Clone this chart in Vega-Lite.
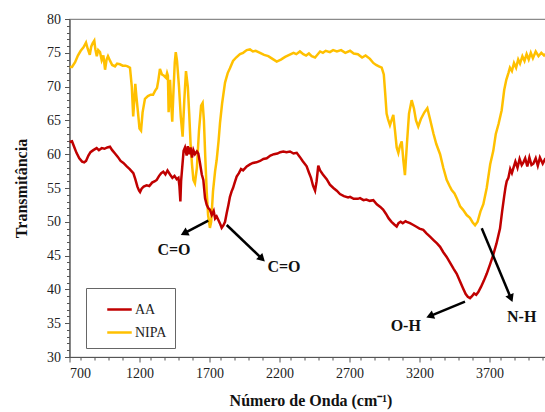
{
  "$schema": "https://vega.github.io/schema/vega-lite/v6.json",
  "width": 490,
  "height": 338,
  "autosize": {"type": "none"},
  "padding": {"left": 69.5, "top": 19, "right": 0, "bottom": 55},
  "background": "white",
  "config": {
    "view": {"stroke": "#8a8a8a", "strokeWidth": 1.2},
    "font": "'Liberation Serif', 'Times New Roman', serif",
    "axis": {"grid": false, "labelFont": "'Liberation Serif', 'Times New Roman', serif", "titleFont": "'Liberation Serif', 'Times New Roman', serif"},
    "legend": {"labelFont": "'Liberation Serif', 'Times New Roman', serif"},
    "text": {"font": "'Liberation Serif', 'Times New Roman', serif"}
  },
  "datasets": {
    "spectra": [
      {"w": 700, "t": 72.9, "s": "NIPA"}, {"w": 718, "t": 72.9, "s": "NIPA"}, {"w": 740, "t": 73.6, "s": "NIPA"},
      {"w": 760, "t": 74.6, "s": "NIPA"}, {"w": 780, "t": 75.3, "s": "NIPA"}, {"w": 800, "t": 75.8, "s": "NIPA"},
      {"w": 818, "t": 76.5, "s": "NIPA"}, {"w": 830, "t": 75.6, "s": "NIPA"}, {"w": 845, "t": 74.7, "s": "NIPA"},
      {"w": 855, "t": 75.9, "s": "NIPA"}, {"w": 865, "t": 76.4, "s": "NIPA"}, {"w": 877, "t": 76.8, "s": "NIPA"},
      {"w": 885, "t": 75.5, "s": "NIPA"}, {"w": 895, "t": 74.5, "s": "NIPA"}, {"w": 905, "t": 75.4, "s": "NIPA"},
      {"w": 918, "t": 75.1, "s": "NIPA"}, {"w": 930, "t": 73.9, "s": "NIPA"}, {"w": 942, "t": 74.6, "s": "NIPA"},
      {"w": 954, "t": 72.5, "s": "NIPA"}, {"w": 965, "t": 74.0, "s": "NIPA"}, {"w": 975, "t": 74.5, "s": "NIPA"},
      {"w": 990, "t": 73.8, "s": "NIPA"}, {"w": 1005, "t": 73.2, "s": "NIPA"}, {"w": 1025, "t": 73.0, "s": "NIPA"},
      {"w": 1040, "t": 73.4, "s": "NIPA"}, {"w": 1060, "t": 73.3, "s": "NIPA"}, {"w": 1080, "t": 73.1, "s": "NIPA"},
      {"w": 1100, "t": 73.1, "s": "NIPA"}, {"w": 1115, "t": 73.0, "s": "NIPA"}, {"w": 1132, "t": 72.8, "s": "NIPA"},
      {"w": 1145, "t": 70.0, "s": "NIPA"}, {"w": 1155, "t": 65.6, "s": "NIPA"}, {"w": 1163, "t": 68.0, "s": "NIPA"},
      {"w": 1170, "t": 70.4, "s": "NIPA"}, {"w": 1178, "t": 68.5, "s": "NIPA"}, {"w": 1190, "t": 66.0, "s": "NIPA"},
      {"w": 1200, "t": 63.8, "s": "NIPA"}, {"w": 1211, "t": 63.5, "s": "NIPA"}, {"w": 1222, "t": 66.2, "s": "NIPA"},
      {"w": 1239, "t": 68.2, "s": "NIPA"}, {"w": 1260, "t": 68.6, "s": "NIPA"}, {"w": 1280, "t": 68.8, "s": "NIPA"},
      {"w": 1297, "t": 68.8, "s": "NIPA"}, {"w": 1312, "t": 69.4, "s": "NIPA"}, {"w": 1325, "t": 69.8, "s": "NIPA"},
      {"w": 1335, "t": 71.0, "s": "NIPA"}, {"w": 1346, "t": 72.6, "s": "NIPA"}, {"w": 1360, "t": 71.8, "s": "NIPA"},
      {"w": 1375, "t": 71.6, "s": "NIPA"}, {"w": 1389, "t": 71.3, "s": "NIPA"}, {"w": 1397, "t": 72.0, "s": "NIPA"},
      {"w": 1403, "t": 71.6, "s": "NIPA"}, {"w": 1408, "t": 66.2, "s": "NIPA"}, {"w": 1413, "t": 68.5, "s": "NIPA"},
      {"w": 1418, "t": 71.0, "s": "NIPA"}, {"w": 1425, "t": 68.0, "s": "NIPA"}, {"w": 1434, "t": 64.8, "s": "NIPA"},
      {"w": 1443, "t": 69.5, "s": "NIPA"}, {"w": 1452, "t": 73.6, "s": "NIPA"}, {"w": 1459, "t": 75.1, "s": "NIPA"},
      {"w": 1468, "t": 73.8, "s": "NIPA"}, {"w": 1482, "t": 70.0, "s": "NIPA"}, {"w": 1495, "t": 65.5, "s": "NIPA"},
      {"w": 1508, "t": 62.6, "s": "NIPA"}, {"w": 1520, "t": 68.0, "s": "NIPA"}, {"w": 1532, "t": 72.3, "s": "NIPA"},
      {"w": 1545, "t": 70.0, "s": "NIPA"}, {"w": 1555, "t": 66.0, "s": "NIPA"}, {"w": 1565, "t": 61.5, "s": "NIPA"},
      {"w": 1575, "t": 58.5, "s": "NIPA"}, {"w": 1585, "t": 56.2, "s": "NIPA"}, {"w": 1596, "t": 55.7, "s": "NIPA"},
      {"w": 1610, "t": 58.0, "s": "NIPA"}, {"w": 1625, "t": 63.5, "s": "NIPA"}, {"w": 1640, "t": 67.2, "s": "NIPA"},
      {"w": 1651, "t": 67.6, "s": "NIPA"}, {"w": 1660, "t": 65.0, "s": "NIPA"}, {"w": 1670, "t": 59.5, "s": "NIPA"},
      {"w": 1680, "t": 54.5, "s": "NIPA"}, {"w": 1690, "t": 51.0, "s": "NIPA"}, {"w": 1703, "t": 49.1, "s": "NIPA"},
      {"w": 1712, "t": 50.0, "s": "NIPA"}, {"w": 1725, "t": 54.5, "s": "NIPA"}, {"w": 1740, "t": 57.5, "s": "NIPA"},
      {"w": 1751, "t": 59.1, "s": "NIPA"}, {"w": 1765, "t": 62.0, "s": "NIPA"}, {"w": 1775, "t": 64.6, "s": "NIPA"},
      {"w": 1790, "t": 67.5, "s": "NIPA"}, {"w": 1811, "t": 70.6, "s": "NIPA"}, {"w": 1830, "t": 72.0, "s": "NIPA"},
      {"w": 1846, "t": 72.7, "s": "NIPA"}, {"w": 1868, "t": 73.8, "s": "NIPA"}, {"w": 1890, "t": 74.3, "s": "NIPA"},
      {"w": 1918, "t": 74.8, "s": "NIPA"}, {"w": 1940, "t": 75.0, "s": "NIPA"}, {"w": 1966, "t": 75.4, "s": "NIPA"},
      {"w": 1989, "t": 75.5, "s": "NIPA"}, {"w": 2010, "t": 75.2, "s": "NIPA"}, {"w": 2030, "t": 75.3, "s": "NIPA"},
      {"w": 2061, "t": 75.0, "s": "NIPA"}, {"w": 2090, "t": 74.7, "s": "NIPA"}, {"w": 2120, "t": 74.5, "s": "NIPA"},
      {"w": 2150, "t": 74.1, "s": "NIPA"}, {"w": 2180, "t": 73.7, "s": "NIPA"}, {"w": 2210, "t": 74.0, "s": "NIPA"},
      {"w": 2240, "t": 74.4, "s": "NIPA"}, {"w": 2270, "t": 74.7, "s": "NIPA"}, {"w": 2300, "t": 75.0, "s": "NIPA"},
      {"w": 2320, "t": 74.8, "s": "NIPA"}, {"w": 2346, "t": 75.2, "s": "NIPA"}, {"w": 2370, "t": 74.8, "s": "NIPA"},
      {"w": 2390, "t": 74.6, "s": "NIPA"}, {"w": 2410, "t": 74.9, "s": "NIPA"}, {"w": 2430, "t": 74.5, "s": "NIPA"},
      {"w": 2454, "t": 74.3, "s": "NIPA"}, {"w": 2466, "t": 74.6, "s": "NIPA"}, {"w": 2490, "t": 75.2, "s": "NIPA"},
      {"w": 2510, "t": 75.0, "s": "NIPA"}, {"w": 2530, "t": 75.3, "s": "NIPA"}, {"w": 2560, "t": 75.1, "s": "NIPA"},
      {"w": 2583, "t": 75.4, "s": "NIPA"}, {"w": 2610, "t": 75.2, "s": "NIPA"}, {"w": 2640, "t": 75.4, "s": "NIPA"},
      {"w": 2670, "t": 75.0, "s": "NIPA"}, {"w": 2704, "t": 75.3, "s": "NIPA"}, {"w": 2730, "t": 74.9, "s": "NIPA"},
      {"w": 2760, "t": 74.8, "s": "NIPA"}, {"w": 2790, "t": 74.3, "s": "NIPA"}, {"w": 2815, "t": 74.6, "s": "NIPA"},
      {"w": 2846, "t": 74.1, "s": "NIPA"}, {"w": 2870, "t": 73.5, "s": "NIPA"}, {"w": 2890, "t": 73.2, "s": "NIPA"},
      {"w": 2910, "t": 73.0, "s": "NIPA"}, {"w": 2930, "t": 72.8, "s": "NIPA"}, {"w": 2945, "t": 71.8, "s": "NIPA"},
      {"w": 2955, "t": 69.0, "s": "NIPA"}, {"w": 2965, "t": 66.0, "s": "NIPA"}, {"w": 2975, "t": 65.2, "s": "NIPA"},
      {"w": 2989, "t": 64.3, "s": "NIPA"}, {"w": 3000, "t": 65.0, "s": "NIPA"}, {"w": 3013, "t": 65.8, "s": "NIPA"},
      {"w": 3025, "t": 63.5, "s": "NIPA"}, {"w": 3037, "t": 61.0, "s": "NIPA"}, {"w": 3049, "t": 60.2, "s": "NIPA"},
      {"w": 3060, "t": 61.2, "s": "NIPA"}, {"w": 3073, "t": 61.9, "s": "NIPA"}, {"w": 3085, "t": 59.0, "s": "NIPA"},
      {"w": 3096, "t": 56.9, "s": "NIPA"}, {"w": 3110, "t": 61.5, "s": "NIPA"}, {"w": 3125, "t": 66.0, "s": "NIPA"},
      {"w": 3144, "t": 68.0, "s": "NIPA"}, {"w": 3160, "t": 66.8, "s": "NIPA"}, {"w": 3175, "t": 65.0, "s": "NIPA"},
      {"w": 3191, "t": 64.1, "s": "NIPA"}, {"w": 3210, "t": 65.2, "s": "NIPA"}, {"w": 3235, "t": 66.2, "s": "NIPA"},
      {"w": 3256, "t": 66.8, "s": "NIPA"}, {"w": 3275, "t": 65.2, "s": "NIPA"}, {"w": 3299, "t": 63.1, "s": "NIPA"},
      {"w": 3320, "t": 61.5, "s": "NIPA"}, {"w": 3347, "t": 60.0, "s": "NIPA"}, {"w": 3370, "t": 58.0, "s": "NIPA"},
      {"w": 3394, "t": 56.2, "s": "NIPA"}, {"w": 3415, "t": 55.3, "s": "NIPA"}, {"w": 3430, "t": 54.7, "s": "NIPA"},
      {"w": 3450, "t": 54.2, "s": "NIPA"}, {"w": 3466, "t": 53.5, "s": "NIPA"}, {"w": 3490, "t": 52.3, "s": "NIPA"},
      {"w": 3510, "t": 51.8, "s": "NIPA"}, {"w": 3537, "t": 51.0, "s": "NIPA"}, {"w": 3560, "t": 50.6, "s": "NIPA"},
      {"w": 3580, "t": 49.9, "s": "NIPA"}, {"w": 3597, "t": 49.5, "s": "NIPA"}, {"w": 3615, "t": 50.0, "s": "NIPA"},
      {"w": 3635, "t": 51.5, "s": "NIPA"}, {"w": 3656, "t": 52.6, "s": "NIPA"}, {"w": 3680, "t": 55.0, "s": "NIPA"},
      {"w": 3705, "t": 58.5, "s": "NIPA"}, {"w": 3727, "t": 60.5, "s": "NIPA"}, {"w": 3745, "t": 63.0, "s": "NIPA"},
      {"w": 3765, "t": 64.5, "s": "NIPA"}, {"w": 3787, "t": 66.5, "s": "NIPA"}, {"w": 3805, "t": 69.5, "s": "NIPA"},
      {"w": 3820, "t": 71.0, "s": "NIPA"}, {"w": 3835, "t": 72.0, "s": "NIPA"}, {"w": 3846, "t": 72.8, "s": "NIPA"},
      {"w": 3860, "t": 72.3, "s": "NIPA"}, {"w": 3875, "t": 73.5, "s": "NIPA"}, {"w": 3890, "t": 72.8, "s": "NIPA"},
      {"w": 3905, "t": 74.0, "s": "NIPA"}, {"w": 3918, "t": 73.4, "s": "NIPA"}, {"w": 3935, "t": 74.5, "s": "NIPA"},
      {"w": 3950, "t": 73.8, "s": "NIPA"}, {"w": 3965, "t": 74.8, "s": "NIPA"}, {"w": 3980, "t": 74.0, "s": "NIPA"},
      {"w": 3995, "t": 75.0, "s": "NIPA"}, {"w": 4010, "t": 74.2, "s": "NIPA"}, {"w": 4030, "t": 75.2, "s": "NIPA"},
      {"w": 4050, "t": 74.5, "s": "NIPA"}, {"w": 4070, "t": 75.0, "s": "NIPA"}, {"w": 4090, "t": 74.6, "s": "NIPA"},
      {"w": 4110, "t": 75.0, "s": "NIPA"},

      {"w": 700, "t": 61.8, "s": "AA"}, {"w": 718, "t": 61.9, "s": "AA"}, {"w": 735, "t": 61.0, "s": "AA"},
      {"w": 750, "t": 60.2, "s": "AA"}, {"w": 770, "t": 59.4, "s": "AA"}, {"w": 790, "t": 58.9, "s": "AA"},
      {"w": 805, "t": 58.8, "s": "AA"}, {"w": 818, "t": 59.0, "s": "AA"}, {"w": 835, "t": 59.8, "s": "AA"},
      {"w": 850, "t": 60.3, "s": "AA"}, {"w": 870, "t": 60.6, "s": "AA"}, {"w": 894, "t": 60.9, "s": "AA"},
      {"w": 910, "t": 60.6, "s": "AA"}, {"w": 930, "t": 60.9, "s": "AA"}, {"w": 950, "t": 60.8, "s": "AA"},
      {"w": 970, "t": 61.0, "s": "AA"}, {"w": 989, "t": 61.1, "s": "AA"}, {"w": 1005, "t": 60.6, "s": "AA"},
      {"w": 1025, "t": 60.1, "s": "AA"}, {"w": 1045, "t": 59.6, "s": "AA"}, {"w": 1065, "t": 59.0, "s": "AA"},
      {"w": 1085, "t": 58.7, "s": "AA"}, {"w": 1109, "t": 58.2, "s": "AA"}, {"w": 1130, "t": 57.8, "s": "AA"},
      {"w": 1156, "t": 57.2, "s": "AA"}, {"w": 1170, "t": 56.3, "s": "AA"}, {"w": 1185, "t": 55.2, "s": "AA"},
      {"w": 1197, "t": 54.6, "s": "AA"}, {"w": 1204, "t": 54.4, "s": "AA"}, {"w": 1215, "t": 54.9, "s": "AA"},
      {"w": 1230, "t": 55.2, "s": "AA"}, {"w": 1251, "t": 55.4, "s": "AA"}, {"w": 1270, "t": 55.3, "s": "AA"},
      {"w": 1290, "t": 55.8, "s": "AA"}, {"w": 1310, "t": 56.0, "s": "AA"}, {"w": 1323, "t": 56.2, "s": "AA"},
      {"w": 1340, "t": 56.8, "s": "AA"}, {"w": 1355, "t": 57.2, "s": "AA"}, {"w": 1370, "t": 57.4, "s": "AA"},
      {"w": 1385, "t": 57.0, "s": "AA"}, {"w": 1400, "t": 57.6, "s": "AA"}, {"w": 1418, "t": 57.0, "s": "AA"},
      {"w": 1435, "t": 56.5, "s": "AA"}, {"w": 1450, "t": 56.8, "s": "AA"}, {"w": 1466, "t": 56.3, "s": "AA"},
      {"w": 1478, "t": 56.5, "s": "AA"}, {"w": 1485, "t": 55.3, "s": "AA"}, {"w": 1492, "t": 53.0, "s": "AA"},
      {"w": 1497, "t": 56.0, "s": "AA"}, {"w": 1505, "t": 58.0, "s": "AA"}, {"w": 1515, "t": 60.5, "s": "AA"},
      {"w": 1525, "t": 61.0, "s": "AA"}, {"w": 1537, "t": 59.8, "s": "AA"}, {"w": 1545, "t": 61.2, "s": "AA"},
      {"w": 1555, "t": 60.0, "s": "AA"}, {"w": 1565, "t": 61.0, "s": "AA"}, {"w": 1575, "t": 59.5, "s": "AA"},
      {"w": 1585, "t": 60.6, "s": "AA"}, {"w": 1596, "t": 60.0, "s": "AA"}, {"w": 1610, "t": 60.4, "s": "AA"},
      {"w": 1620, "t": 60.1, "s": "AA"}, {"w": 1632, "t": 58.7, "s": "AA"}, {"w": 1645, "t": 57.0, "s": "AA"},
      {"w": 1656, "t": 56.2, "s": "AA"}, {"w": 1668, "t": 53.5, "s": "AA"}, {"w": 1680, "t": 52.5, "s": "AA"},
      {"w": 1692, "t": 52.0, "s": "AA"}, {"w": 1703, "t": 51.8, "s": "AA"}, {"w": 1716, "t": 51.0, "s": "AA"},
      {"w": 1730, "t": 51.6, "s": "AA"}, {"w": 1740, "t": 50.5, "s": "AA"}, {"w": 1751, "t": 50.8, "s": "AA"},
      {"w": 1765, "t": 50.2, "s": "AA"}, {"w": 1778, "t": 49.6, "s": "AA"}, {"w": 1787, "t": 49.1, "s": "AA"},
      {"w": 1800, "t": 49.5, "s": "AA"}, {"w": 1811, "t": 50.0, "s": "AA"}, {"w": 1823, "t": 51.3, "s": "AA"},
      {"w": 1835, "t": 52.5, "s": "AA"}, {"w": 1846, "t": 53.7, "s": "AA"}, {"w": 1858, "t": 54.5, "s": "AA"},
      {"w": 1868, "t": 55.0, "s": "AA"}, {"w": 1880, "t": 55.8, "s": "AA"}, {"w": 1894, "t": 56.7, "s": "AA"},
      {"w": 1910, "t": 57.2, "s": "AA"}, {"w": 1925, "t": 57.8, "s": "AA"}, {"w": 1940, "t": 57.6, "s": "AA"},
      {"w": 1966, "t": 58.2, "s": "AA"}, {"w": 1989, "t": 58.5, "s": "AA"}, {"w": 2010, "t": 58.7, "s": "AA"},
      {"w": 2035, "t": 58.8, "s": "AA"}, {"w": 2061, "t": 59.0, "s": "AA"}, {"w": 2085, "t": 59.3, "s": "AA"},
      {"w": 2109, "t": 59.4, "s": "AA"}, {"w": 2135, "t": 59.8, "s": "AA"}, {"w": 2160, "t": 60.0, "s": "AA"},
      {"w": 2185, "t": 60.1, "s": "AA"}, {"w": 2205, "t": 60.3, "s": "AA"}, {"w": 2227, "t": 60.4, "s": "AA"},
      {"w": 2250, "t": 60.3, "s": "AA"}, {"w": 2275, "t": 60.4, "s": "AA"}, {"w": 2300, "t": 60.1, "s": "AA"},
      {"w": 2323, "t": 60.2, "s": "AA"}, {"w": 2345, "t": 59.6, "s": "AA"}, {"w": 2365, "t": 59.0, "s": "AA"},
      {"w": 2394, "t": 58.2, "s": "AA"}, {"w": 2410, "t": 57.3, "s": "AA"}, {"w": 2425, "t": 56.5, "s": "AA"},
      {"w": 2440, "t": 55.3, "s": "AA"}, {"w": 2454, "t": 54.6, "s": "AA"}, {"w": 2465, "t": 56.0, "s": "AA"},
      {"w": 2477, "t": 58.3, "s": "AA"}, {"w": 2490, "t": 57.6, "s": "AA"}, {"w": 2510, "t": 57.0, "s": "AA"},
      {"w": 2537, "t": 56.3, "s": "AA"}, {"w": 2560, "t": 55.5, "s": "AA"}, {"w": 2585, "t": 55.0, "s": "AA"},
      {"w": 2609, "t": 54.6, "s": "AA"}, {"w": 2632, "t": 54.1, "s": "AA"}, {"w": 2660, "t": 53.8, "s": "AA"},
      {"w": 2690, "t": 53.6, "s": "AA"}, {"w": 2704, "t": 53.7, "s": "AA"}, {"w": 2730, "t": 53.4, "s": "AA"},
      {"w": 2760, "t": 53.4, "s": "AA"}, {"w": 2775, "t": 53.5, "s": "AA"}, {"w": 2800, "t": 53.2, "s": "AA"},
      {"w": 2820, "t": 53.3, "s": "AA"}, {"w": 2845, "t": 53.1, "s": "AA"}, {"w": 2870, "t": 53.2, "s": "AA"},
      {"w": 2895, "t": 52.6, "s": "AA"}, {"w": 2920, "t": 52.2, "s": "AA"}, {"w": 2940, "t": 51.8, "s": "AA"},
      {"w": 2960, "t": 51.2, "s": "AA"}, {"w": 2980, "t": 50.5, "s": "AA"}, {"w": 3000, "t": 50.0, "s": "AA"},
      {"w": 3020, "t": 49.6, "s": "AA"}, {"w": 3037, "t": 49.3, "s": "AA"}, {"w": 3050, "t": 49.8, "s": "AA"},
      {"w": 3065, "t": 50.0, "s": "AA"}, {"w": 3080, "t": 49.8, "s": "AA"}, {"w": 3100, "t": 50.1, "s": "AA"},
      {"w": 3109, "t": 50.0, "s": "AA"}, {"w": 3132, "t": 49.8, "s": "AA"}, {"w": 3150, "t": 49.6, "s": "AA"},
      {"w": 3175, "t": 49.3, "s": "AA"}, {"w": 3200, "t": 49.0, "s": "AA"}, {"w": 3227, "t": 48.8, "s": "AA"},
      {"w": 3250, "t": 48.3, "s": "AA"}, {"w": 3275, "t": 47.8, "s": "AA"}, {"w": 3300, "t": 47.3, "s": "AA"},
      {"w": 3325, "t": 46.8, "s": "AA"}, {"w": 3347, "t": 46.3, "s": "AA"}, {"w": 3370, "t": 45.5, "s": "AA"},
      {"w": 3394, "t": 44.8, "s": "AA"}, {"w": 3420, "t": 43.9, "s": "AA"}, {"w": 3445, "t": 43.0, "s": "AA"},
      {"w": 3466, "t": 42.3, "s": "AA"}, {"w": 3489, "t": 41.2, "s": "AA"}, {"w": 3510, "t": 40.2, "s": "AA"},
      {"w": 3530, "t": 39.3, "s": "AA"}, {"w": 3545, "t": 38.9, "s": "AA"}, {"w": 3561, "t": 38.7, "s": "AA"},
      {"w": 3575, "t": 39.0, "s": "AA"}, {"w": 3590, "t": 39.4, "s": "AA"}, {"w": 3605, "t": 39.2, "s": "AA"},
      {"w": 3620, "t": 39.6, "s": "AA"}, {"w": 3640, "t": 40.4, "s": "AA"}, {"w": 3660, "t": 41.3, "s": "AA"},
      {"w": 3680, "t": 42.3, "s": "AA"}, {"w": 3704, "t": 43.7, "s": "AA"}, {"w": 3725, "t": 45.0, "s": "AA"},
      {"w": 3750, "t": 46.8, "s": "AA"}, {"w": 3775, "t": 49.0, "s": "AA"}, {"w": 3790, "t": 51.5, "s": "AA"},
      {"w": 3805, "t": 53.8, "s": "AA"}, {"w": 3815, "t": 55.2, "s": "AA"}, {"w": 3823, "t": 56.0, "s": "AA"},
      {"w": 3835, "t": 56.5, "s": "AA"}, {"w": 3848, "t": 57.8, "s": "AA"}, {"w": 3860, "t": 57.2, "s": "AA"},
      {"w": 3870, "t": 57.9, "s": "AA"}, {"w": 3885, "t": 58.9, "s": "AA"}, {"w": 3900, "t": 58.0, "s": "AA"},
      {"w": 3915, "t": 59.3, "s": "AA"}, {"w": 3930, "t": 58.4, "s": "AA"}, {"w": 3942, "t": 58.8, "s": "AA"},
      {"w": 3955, "t": 59.4, "s": "AA"}, {"w": 3970, "t": 58.2, "s": "AA"}, {"w": 3985, "t": 59.5, "s": "AA"},
      {"w": 4000, "t": 58.4, "s": "AA"}, {"w": 4013, "t": 58.6, "s": "AA"}, {"w": 4030, "t": 59.4, "s": "AA"},
      {"w": 4045, "t": 58.3, "s": "AA"}, {"w": 4060, "t": 59.5, "s": "AA"}, {"w": 4080, "t": 58.6, "s": "AA"},
      {"w": 4095, "t": 59.2, "s": "AA"}, {"w": 4110, "t": 58.9, "s": "AA"}
    ],
    "arrows": [
      {"x1": 1691.5, "y1": 50.16, "x2": 1527.6, "y2": 48.4, "ang": 242.5},
      {"x1": 1822.9, "y1": 49.53, "x2": 2068.6, "y2": 44.66, "ang": 133.7},
      {"x1": 3525.0, "y1": 38.18, "x2": 3282.9, "y2": 36.12, "ang": 247.8},
      {"x1": 3644.4, "y1": 49.04, "x2": 3850.0, "y2": 38.85, "ang": 157.3}
    ],
    "labels": [
      {"x": 1446, "y": 45.8, "text": "C=O"},
      {"x": 2232, "y": 43.3, "text": "C=O"},
      {"x": 3102, "y": 34.6, "text": "O-H"},
      {"x": 3930, "y": 35.9, "text": "N-H"}
    ]
  },
  "resolve": {"axis": {"x": "independent", "y": "independent"}},
  "layer": [
    {
      "data": {"name": "spectra"},
      "mark": {"type": "line", "opacity": 0},
      "encoding": {
        "x": {
          "field": "w", "type": "quantitative",
          "scale": {"domain": [700, 4200], "nice": false, "zero": false},
          "axis": {
            "orient": "bottom", "title": null, "labels": false, "domain": false,
            "values": [800, 900, 1000, 1100, 1300, 1400, 1500, 1600, 1800, 1900, 2000, 2100, 2300, 2400, 2500, 2600, 2800, 2900, 3000, 3100, 3300, 3400, 3500, 3600, 3800, 3900, 4000, 4100],
            "tickSize": 3, "tickOffset": -3, "tickColor": "#555", "tickWidth": 1
          }
        },
        "y": {
          "field": "t", "type": "quantitative",
          "scale": {"domain": [30, 80], "nice": false, "zero": false},
          "axis": {
            "orient": "left", "title": null, "labels": false, "domain": false,
            "values": [31, 32, 33, 34, 36, 37, 38, 39, 41, 42, 43, 44, 46, 47, 48, 49, 51, 52, 53, 54, 56, 57, 58, 59, 61, 62, 63, 64, 66, 67, 68, 69, 71, 72, 73, 74, 76, 77, 78, 79],
            "tickSize": 3, "tickColor": "#555", "tickWidth": 1
          }
        }
      }
    },
    {
      "data": {"name": "spectra"},
      "mark": {"type": "line", "strokeWidth": 2.5, "interpolate": "linear", "clip": true},
      "encoding": {
        "x": {
          "field": "w", "type": "quantitative",
          "scale": {"domain": [700, 4200], "nice": false, "zero": false},
          "axis": {
            "orient": "bottom",
            "values": [700, 1200, 1700, 2200, 2700, 3200, 3700],
            "format": "d",
            "title": "Número de Onda (cm⁻¹)",
            "titleFontSize": 16, "titleFontWeight": "bold", "titleColor": "#111",
            "titlePadding": 12, "titleX": 241,
            "labelFontSize": 14, "labelColor": "#222", "labelPadding": 4,
            "tickSize": 5, "tickColor": "#555", "domainColor": "#555", "domainWidth": 1.2
          }
        },
        "y": {
          "field": "t", "type": "quantitative",
          "scale": {"domain": [30, 80], "nice": false, "zero": false},
          "axis": {
            "orient": "left",
            "values": [30, 35, 40, 45, 50, 55, 60, 65, 70, 75, 80],
            "title": "Transmitância",
            "titleFontSize": 16, "titleFontWeight": "bold", "titleColor": "#111",
            "titlePadding": 17,
            "labelFontSize": 14, "labelColor": "#222", "labelPadding": 4,
            "tickSize": 5, "tickColor": "#555", "domainColor": "#555", "domainWidth": 1.2
          }
        },
        "color": {
          "field": "s", "type": "nominal",
          "scale": {"domain": ["AA", "NIPA"], "range": ["#C00000", "#FFC000"]},
          "legend": {
            "orient": "none", "legendX": 16.5, "legendY": 269,
            "title": null, "symbolType": "stroke", "symbolSize": 600,
            "symbolStrokeWidth": 2.5, "labelFontSize": 14, "labelColor": "#222",
            "strokeColor": "#666", "fillColor": "white", "padding": 8,
            "symbolOffset": 12, "labelOffset": 2, "rowPadding": 2
          }
        }
      }
    },
    {
      "data": {"name": "arrows"},
      "mark": {"type": "rule", "color": "black", "strokeWidth": 2.5},
      "encoding": {
        "x": {"field": "x1", "type": "quantitative", "axis": null},
        "y": {"field": "y1", "type": "quantitative", "axis": null},
        "x2": {"field": "x2"},
        "y2": {"field": "y2"}
      }
    },
    {
      "data": {"name": "arrows"},
      "mark": {"type": "point", "shape": "triangle", "filled": true, "color": "black", "opacity": 1, "size": 80},
      "encoding": {
        "x": {"field": "x2", "type": "quantitative", "axis": null},
        "y": {"field": "y2", "type": "quantitative", "axis": null},
        "angle": {"field": "ang", "type": "quantitative", "scale": null}
      }
    },
    {
      "data": {"name": "labels"},
      "mark": {"type": "text", "fontWeight": "bold", "fontSize": 16, "color": "#111", "align": "center", "baseline": "middle"},
      "encoding": {
        "x": {"field": "x", "type": "quantitative", "axis": null},
        "y": {"field": "y", "type": "quantitative", "axis": null},
        "text": {"field": "text"}
      }
    }
  ]
}
